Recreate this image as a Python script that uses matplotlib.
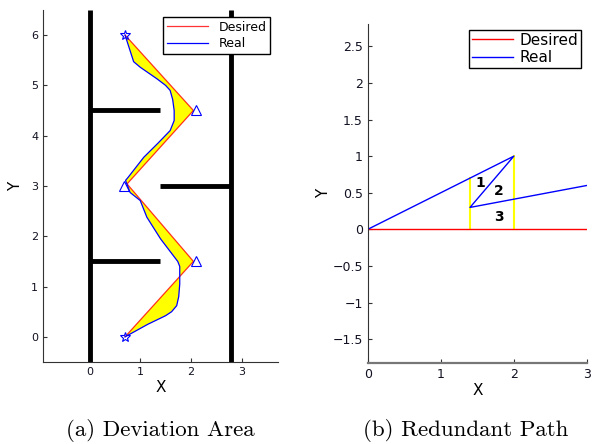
import numpy as np
import matplotlib
matplotlib.use('Agg')
import matplotlib.pyplot as plt

# ---- (a) deviation area data ----
desired_x = [0.7, 2.05, 0.74, 2.05, 0.7]
desired_y = [0.0, 1.5, 3.04, 4.5, 6.0]

real_x = [0.7, 1.15, 1.5, 1.62, 1.72, 1.76, 1.78, 1.78, 1.74, 1.4, 1.13, 1.0,
          0.8, 0.71, 0.76, 1.07, 1.35, 1.59, 1.67, 1.67, 1.64, 1.59, 1.5,
          1.33, 1.0, 0.87, 0.7]
real_y = [0.0, 0.25, 0.42, 0.5, 0.62, 0.8, 1.05, 1.4, 1.5, 1.95, 2.38, 2.71,
          2.87, 3.11, 3.17, 3.57, 3.85, 4.1, 4.3, 4.5, 4.72, 4.9, 5.0,
          5.13, 5.36, 5.47, 6.0]

star_x = [0.7, 0.7]
star_y = [0.0, 6.0]
tri_x = [2.1, 0.67, 2.1]
tri_y = [1.5, 3.0, 4.5]

# walls: (x0, x1, y0, y1)
walls = [(0, 0, -0.5, 6.5), (2.8, 2.8, -0.5, 6.5),
         (0, 1.4, 4.5, 4.5), (1.4, 2.8, 3.0, 3.0), (0, 1.4, 1.5, 1.5)]

# ---- (b) redundant path data ----
b_desired_x = [0, 3]
b_desired_y = [0, 0]
b_real_x = [0, 2, 1.4, 3]
b_real_y = [0, 1, 0.3, 0.6]
b_cut_x = [1.4, 2.0]
b_cut_top = [0.7, 1.0]
b_labels = ['1', '2', '3']
b_label_x = [1.54, 1.8, 1.8]
b_label_y = [0.63, 0.53, 0.17]
b_yticks = [-1.5, -1, -0.5, 0, 0.5, 1, 1.5, 2, 2.5]

fig = plt.figure(figsize=(5.92, 4.44), dpi=100)

def style(ax, fs):
    for s in ['top', 'right']:
        ax.spines[s].set_visible(False)
    for s in ['left', 'bottom']:
        ax.spines[s].set_color('#333333')
    ax.tick_params(direction='in', length=3, labelsize=fs, colors='#333333',
                   labelcolor='#111122')

# (a)
ax1 = fig.add_axes([0.0726, 0.1847, 0.397, 0.793])
poly_x = desired_x + real_x[::-1]
poly_y = desired_y + real_y[::-1]
ax1.fill(poly_x, poly_y, color='yellow', lw=0)
for x0, x1, y0, y1 in walls:
    ax1.plot([x0, x1], [y0, y1], color='black', lw=3.5, solid_capstyle='butt')
l1, = ax1.plot(desired_x, desired_y, color='red', lw=0.9, alpha=0.8)
l2, = ax1.plot(real_x, real_y, color='blue', lw=0.9)
ax1.plot(star_x, star_y, '*', ms=7, mfc='none', mec='blue', mew=0.8)
ax1.plot(tri_x, tri_y, '^', ms=7.5, mfc='none', mec='blue', mew=0.8)
ax1.set_xlim(-0.92, 3.72)
ax1.set_ylim(-0.5, 6.5)
ax1.set_xticks([0, 1, 2, 3])
ax1.set_yticks([0, 1, 2, 3, 4, 5, 6])
style(ax1, 8)
ax1.set_xlabel('X', fontsize=11, labelpad=2)
ax1.set_ylabel('Y', fontsize=11, labelpad=6)
leg1 = ax1.legend([l1, l2], ['Desired', 'Real'], loc='upper right',
                  bbox_to_anchor=(0.966, 0.98), borderaxespad=0, fontsize=9,
                  fancybox=False, edgecolor='black', framealpha=1,
                  handlelength=3.3, borderpad=0.3, labelspacing=0.3)
leg1.get_frame().set_linewidth(1.0)

# (b)
ax2 = fig.add_axes([0.621, 0.183, 0.3705, 0.764])
for x, t in zip(b_cut_x, b_cut_top):
    ax2.plot([x, x], [0, t], color='yellow', lw=1.5)
m1, = ax2.plot(b_desired_x, b_desired_y, color='red', lw=1)
m2, = ax2.plot(b_real_x, b_real_y, color='blue', lw=1)
for s, x, y in zip(b_labels, b_label_x, b_label_y):
    ax2.text(x, y, s, fontsize=10, fontweight='bold', ha='center', va='center')
ax2.set_xlim(0, 3)
ax2.set_ylim(-1.82, 2.81)
ax2.set_xticks([0, 1, 2, 3])
ax2.set_yticks(b_yticks)
ax2.set_yticklabels(['%g' % v if v >= 0 else '\u2212%g' % -v for v in b_yticks])
style(ax2, 9)
ax2.spines['bottom'].set_color('#777777')
ax2.spines['bottom'].set_linewidth(1.6)
ax2.set_xlabel('X', fontsize=11, labelpad=2)
ax2.set_ylabel('Y', fontsize=11, labelpad=1)
leg2 = ax2.legend([m1, m2], ['Desired', 'Real'], loc='upper right',
                  bbox_to_anchor=(0.973, 0.982), borderaxespad=0, fontsize=11,
                  fancybox=False, edgecolor='black', framealpha=1,
                  handlelength=2.7, borderpad=0.2, labelspacing=0.15,
                  handletextpad=0.4)
leg2.get_frame().set_linewidth(1.0)

fig.text(0.27, 0.018, '(a) Deviation Area', fontsize=16.5, family='cmr10',
         ha='center', va='baseline')
fig.text(0.787, 0.018, '(b) Redundant Path', fontsize=16.5, family='cmr10',
         ha='center', va='baseline')

fig.savefig('out.png', dpi=100)
